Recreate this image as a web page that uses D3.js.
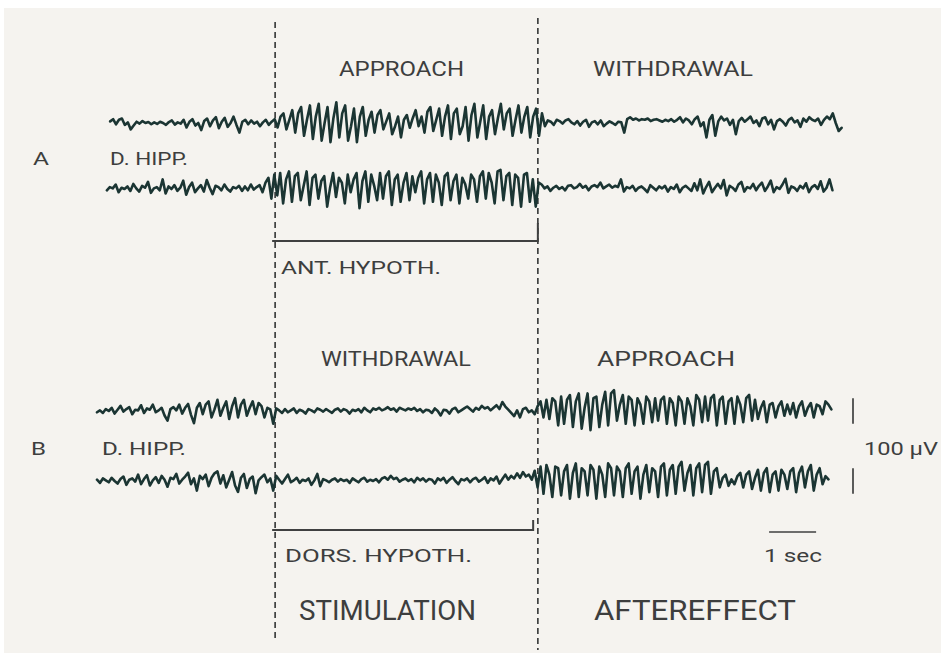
<!DOCTYPE html>
<html>
<head>
<meta charset="utf-8">
<script src="https://cdn.jsdelivr.net/npm/d3@7"></script>
<style>
  body { margin: 0; background: #ffffff; }
  svg { display: block; }
  .lbl { font-family: Roboto, "Noto Sans", sans-serif; font-weight: 400; fill: #3d3e3e; }
</style>
</head>
<body>
<svg id="chart" width="941" height="653"></svg>
<script>
// samples every 1/16 s, values in microvolts (up = positive)
const sampleStep = 1 / 16;

const a1Start = 0.28;
const a1Values = [
  5, 12, -4, 10, 14, -6, 2, -20, -8, 4, -2, 6, 0, 3, -4, 2,
  -3, 4, 0, -6, 3, 8, -5, 2, -2, 10, -14, 4, 12, -8, 0, -22,
  6, 14, -10, 8, 18, -16, 4, 16, -12, 0, 20, -6, -30, 4, 10, -4,
  8, -2, 4, -10, 2, 10, -6, 4, 12, -14, 20, 30, -20, 10, 40, -30,
  30, 50, -40, 10, 55, -50, 20, 60, -55, 0, 50, -60, 15, 65, -45, 30,
  55, -55, -10, 45, -60, 20, 50, -40, 10, 35, -30, 25, 40, -20, 5, 30,
  -35, -10, 20, -45, 10, 25, -15, 15, 40, -10, 20, -30, 35, 50, -25, 10,
  45, -40, 20, 55, -50, 30, 45, -35, -10, 50, -55, 25, 60, -45, 5, 55,
  -50, 20, 40, -35, 15, 60, -20, 30, 45, -40, 10, 55, -30, 20, 50, -45,
  20, 45, -40, 30, -10, 8, 4, -6, 10, 6, -2, 8, 12, 2, -4, 6,
  -8, 4, 10, -12, 2, 6, -4, 8, -10, -2, 5, 0, -6, 4, 2, -30,
  12, 18, 10, 14, 8, 12, 10, 14, 6, 10, 12, 8, 4, 10, 6, 12,
  4, 10, 18, 2, 14, 8, -4, 12, 20, -10, 2, -45, 10, 25, -40, 5,
  20, 8, 14, -6, 10, -35, 6, 16, 4, 12, 20, 0, 8, -10, 14, 18,
  -4, 10, -20, 6, 12, 4, -8, 10, 16, 2, 8, -12, 14, 4, 18, 10,
  6, 14, -6, 10, 20, 12, 30, 0, -25, -15
];

const a2Start = 0.21;
const a2Values = [
  -4, 6, 2, 14, -10, 4, 0, 8, -6, 16, 2, -8, 10, 4, 22, -12,
  2, 6, -4, 30, -14, 8, 0, 12, -6, 4, 26, -18, 6, 20, -10, 2,
  12, -8, 28, 4, -16, 10, 6, -4, 14, 0, -8, 6, 2, 10, -6, 8,
  -4, 14, -2, 6, 12, -10, 20, 35, -30, 45, -20, 50, -45, 30, 55, -40,
  40, 50, -35, 10, 55, -50, 35, 45, -30, 25, 40, -55, 5, 50, -25, 35,
  20, -45, 45, -10, 30, 50, -60, 25, 55, -40, 45, 10, -35, 50, -30, 40,
  55, -50, 30, 45, -40, 20, 50, -35, 40, -10, 35, 55, -45, 30, 50, -40,
  45, 20, -50, 40, 50, -35, 25, 45, -45, 35, 15, -30, 45, 30, -40, 40,
  55, -30, 50, 20, -45, 55, 60, -35, 40, 50, -50, 45, 35, -55, 45, 50,
  -40, 30, -55, 20, 14, 2, 8, -6, 4, 10, 0, 6, -4, 10, 12, 2,
  6, 16, 4, 10, -4, 8, 12, 6, 20, 2, 8, 14, 4, 10, 6, 30,
  -8, 6, 2, 10, -6, 4, 8, 0, -10, 12, 4, -4, 8, 2, 10, -8,
  6, 0, 14, -10, 4, 10, 2, -6, 18, -4, 30, -14, 6, 22, -10, 4,
  16, 2, 28, -20, 10, 4, -6, 14, 22, -8, 6, 2, 16, -4, 10, 20,
  -6, 8, 26, -10, 6, 0, 14, 32, -12, 8, 4, -6, 10, 2, 18, -10,
  6, 12, 0, 24, -8, 4, 30, -4
];

const b1Start = 0;
const b1Values = [
  -4, 2, -6, 6, 0, 10, -8, 4, 16, -2, 6, 12, -10, 4, 2, 18,
  -6, 8, 4, 20, -4, 2, 10, -14, -30, 6, 12, 2, 20, -8, 10, 22,
  -12, -38, 10, 25, -10, 20, 30, -20, 5, 35, -15, 10, 30, -25, 15, 40,
  -20, 20, 35, -15, 10, 30, -10, 25, 15, -20, 10, 5, -40, 8, 2, -6,
  6, -4, 2, 8, -6, 4, 0, -8, 6, 2, -4, 8, 4, -2, 6, 0,
  -6, 4, 8, -2, 6, 2, -8, 4, 0, 6, -4, 10, 2, -4, 8, 4,
  10, 2, 6, 12, 4, 8, -2, 10, 6, 2, 8, 4, 10, 0, 6, -4,
  4, 2, -6, 8, 0, -14, 4, 2, -8, 6, 10, -4, 2, 8, 14, 6,
  -2, 10, 4, 16, 8, 12, 2, 10, 18, 6, 28, 14, 4, -6, -16, 2,
  -20, 6, 10, -4, 2, -10, 15, 30, -20, 35, -25, 40, 30, -45, 45, -40,
  35, 50, -50, 30, 55, -55, 10, 55, -60, 40, 45, -50, 20, 60, -45, 55,
  65, -30, 20, 50, -40, 45, 35, -45, 40, 20, -40, 45, 30, -35, 40, -30,
  35, 45, -40, 40, 25, -45, 45, 30, -40, 40, 15, -45, 50, 35, -35, 45,
  -30, 40, 50, -45, 35, 45, -40, 30, 40, -40, 45, 20, -35, 40, 50, -30,
  35, -25, 10, 30, -35, 20, 25, -20, 15, 30, -15, 20, -10, 25, -20, 15,
  30, -15, 10, 25, -20, 20, 15, -10, 30, 20, 5
];

const b2Start = 0;
const b2Values = [
  4, -6, 8, 2, -4, 10, 0, -8, 6, 14, -12, 4, 8, -2, 20, -10,
  6, 18, -14, 2, 12, -6, 16, 4, -18, 10, 6, 22, -8, 4, 14, 26,
  -10, 8, -30, 16, 6, 20, -16, 10, 24, 30, -8, 18, -20, 4, 28, -14,
  -34, 10, 22, -22, 6, 14, -38, 2, 12, 20, -4, 8, -30, 16, 4, -8,
  6, 20, -4, 2, 10, -6, 4, 0, 8, -12, 2, 22, -16, 6, 2, -4,
  4, 8, -2, 6, 0, 4, -6, 8, 2, -4, 6, 10, -2, 4, 0, 6,
  -4, 8, 12, 4, 16, 6, 10, -2, 4, 8, 0, 6, -4, 10, 2, 8,
  -2, 6, 4, -8, 8, 2, 10, -6, 4, 12, 0, -10, 6, 2, 8, -4,
  6, 10, -2, 4, 12, -6, 8, 2, 14, -8, 6, 20, 4, 16, 8, 24,
  10, 28, 14, 20, 4, 32, -20, 45, -40, 50, 20, -50, 45, 40, -45, 30,
  50, -55, 25, 55, -50, 40, 30, -45, 50, 35, -55, 45, 20, -50, 55, 40,
  -45, 45, 30, -50, 40, 55, -40, 30, 45, -55, 20, 50, -35, 40, 30, -50,
  45, 55, -45, 35, 50, -40, 45, 60, -30, 25, 50, -45, 40, 55, -35, 50,
  60, -40, 30, 40, -20, 10, 20, -15, 5, -10, 15, 25, -20, 20, 30, -25,
  10, 35, -30, 25, 40, -35, 20, 30, -30, 35, 20, -25, 30, 40, -35, 25,
  45, -20, 30, 50, -30, 20, 40, -10, 15, 5
];

// stimulation on / off (s) and the scale bars
const stimOn = 3.79;
const stimOff = 9.38;
const timeBar = [14.3, 15.3];
const voltBar = [-40, 40];

const svg = d3.select('#chart');

svg.append('rect')
  .attr('x', 4).attr('y', 8)
  .attr('width', 937).attr('height', 645)
  .attr('fill', '#f5f3ef');

const x = d3.scaleLinear()
  .domain([0, 16])
  .range([97, 97 + 16 * 47]);

function yFor(base) {
  return d3.scaleLinear().domain([-100, 100]).range([base + 32, base - 32]);
}

const traces = [
  { start: a1Start, values: a1Values, y: yFor(123) },
  { start: a2Start, values: a2Values, y: yFor(189) },
  { start: b1Start, values: b1Values, y: yFor(411) },
  { start: b2Start, values: b2Values, y: yFor(481) }
];

// dashed markers
const dash = svg.append('g')
  .attr('stroke', '#3f4040')
  .attr('stroke-width', 1.7)
  .attr('stroke-dasharray', '6,4');
dash.append('line')
  .attr('x1', x(stimOn)).attr('x2', x(stimOn))
  .attr('y1', 22).attr('y2', 640);
dash.append('line')
  .attr('x1', x(stimOff)).attr('x2', x(stimOff))
  .attr('y1', 18).attr('y2', 650);

// eeg traces
traces.forEach(tr => {
  const line = d3.line()
    .x((d, i) => x(tr.start + i * sampleStep))
    .y(d => tr.y(d))
    .curve(d3.curveLinear);
  svg.append('path')
    .datum(tr.values)
    .attr('d', line)
    .attr('fill', 'none')
    .attr('stroke', '#1b3533')
    .attr('stroke-width', 2.6)
    .attr('stroke-linejoin', 'round')
    .attr('stroke-linecap', 'round');
});

// stimulation brackets
function bracket(yLine, yTop, t0, t1) {
  svg.append('path')
    .attr('d', 'M' + (x(t0) - 3) + ',' + yLine + 'H' + x(t1) + 'V' + yTop)
    .attr('fill', 'none')
    .attr('stroke', '#3f4040')
    .attr('stroke-width', 2);
}
bracket(241, 223, stimOn, stimOff);
bracket(530, 520, stimOn, stimOff - 0.1);

// scale bars
const bars = svg.append('g').attr('stroke', '#3f4040').attr('stroke-width', 1.7);
bars.append('line')
  .attr('x1', 853).attr('x2', 853)
  .attr('y1', traces[2].y(voltBar[1])).attr('y2', traces[2].y(voltBar[0]));
bars.append('line')
  .attr('x1', 853).attr('x2', 853)
  .attr('y1', traces[3].y(voltBar[1])).attr('y2', traces[3].y(voltBar[0]));
bars.append('line')
  .attr('x1', x(timeBar[0])).attr('x2', x(timeBar[1]))
  .attr('y1', 532).attr('y2', 532);

// labels
function label(txt, x0, y0, size, len) {
  const t = svg.append('text')
    .attr('class', 'lbl')
    .attr('x', x0).attr('y', y0)
    .attr('font-size', size)
    .text(txt);
  if (len) t.attr('textLength', len).attr('lengthAdjust', 'spacingAndGlyphs');
}
label('APPROACH', 339, 76, 21, 125);
label('WITHDRAWAL', 593, 76, 21, 160);
label('A', 33, 165, 19, 16);
label('D. HIPP.', 110, 165, 19, 78);
label('ANT.  HYPOTH.', 281, 274, 18, 160);
label('WITHDRAWAL', 321, 366, 21, 150);
label('APPROACH', 597, 366, 21, 138);
label('B', 31, 455, 19, 15);
label('D. HIPP.', 102, 455, 19, 84);
label('100 \u00b5V', 864, 455, 18, 74);
label('DORS.  HYPOTH.', 285, 562, 18, 187);
label('1  sec', 764, 562, 18, 58);
label('STIMULATION', 299, 620, 28, 177);
label('AFTEREFFECT', 594, 620, 28, 202);
</script>
</body>
</html>
